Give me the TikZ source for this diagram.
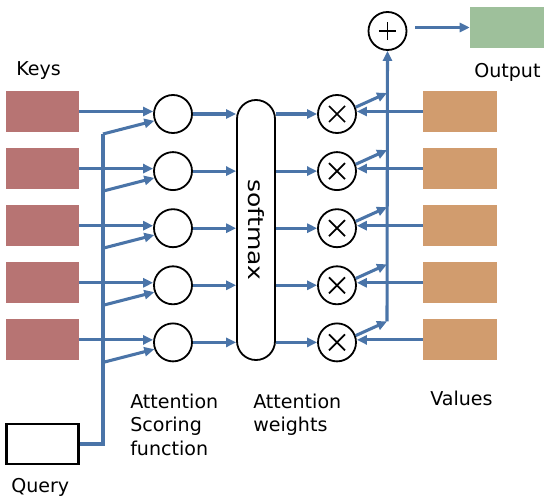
\documentclass[tikz,border=0pt]{standalone}
\usepackage{fontspec}
\setmainfont{DejaVu Sans}
\usetikzlibrary{arrows.meta}
\definecolor{keycol}{RGB}{183,116,115}
\definecolor{valcol}{RGB}{209,156,110}
\definecolor{outcol}{RGB}{158,192,155}
\definecolor{linecol}{RGB}{74,116,168}
\tikzset{
  conn/.style={draw=linecol,line width=2.3pt,-{Triangle[length=7.5pt,width=6.8pt]}},
  plainconn/.style={draw=linecol,line width=2.3pt},
  keybox/.style={rectangle,fill=keycol,minimum width=54.75pt,minimum height=30.75pt,inner sep=0pt},
  valbox/.style={rectangle,fill=valcol,minimum width=55.5pt,minimum height=30.75pt,inner sep=0pt},
  opcirc/.style={circle,draw=black,line width=1.35pt,minimum size=28.5pt,inner sep=0pt},
  sym/.style={draw=black,line width=1.3pt},
  lbl/.style={font=\fontsize{14.3pt}{17.6pt}\selectfont,inner sep=0pt,anchor=base west}
}
\begin{document}
\begin{tikzpicture}[x=0.75pt,y=-0.75pt]
\useasboundingbox (0,0) rectangle (550,503);
% softmax
\node[draw=black,line width=1.35pt,rounded corners=14.2pt,minimum width=28.5pt,minimum height=195pt,inner sep=0pt] (sm) at (256,230)
  {\rotatebox{-90}{\scalebox{1.25}[1.05]{\fontsize{15pt}{17pt}\selectfont softmax}}};
% plus and output
\node[opcirc] (plus) at (387.5,31) {};
\draw[sym] ([xshift=-6.5pt]plus.center) -- ([xshift=6.5pt]plus.center);
\draw[sym] ([yshift=-6.5pt]plus.center) -- ([yshift=6.5pt]plus.center);
\node[rectangle,fill=outcol,minimum width=55.5pt,minimum height=30.75pt,inner sep=0pt] (out) at (507,27.5) {};
\coordinate (plusout) at (415,27.5);
\draw[conn] (plusout) -- (out.west);
% query
\node[rectangle,draw=black,line width=2.2pt,minimum width=54pt,minimum height=30pt,inner sep=0pt] (query) at (42.5,444) {};
\coordinate (qtop) at (103,134);
\draw[plainconn] (query.east) -| (qtop);
% rows
\foreach \i/\r in {1/114,2/171.1,3/228.2,4/285.3,5/342.4}{
  \node[keybox] (k\i) at (42.5,\r-2.5) {};
  \node[valbox] (v\i) at (460,\r-2.5) {};
  \node[opcirc] (c\i) at (173,\r) {};
  \node[opcirc] (m\i) at (337,\r) {};
  \draw[sym] ([shift={(-8,-8)}]m\i.center) -- ([shift={(8,8)}]m\i.center);
  \draw[sym] ([shift={(-8,8)}]m\i.center) -- ([shift={(8,-8)}]m\i.center);
  \coordinate (qb\i) at (103,\r+20);
  \coordinate (s\i) at (387,\r-21);
  \draw[conn] (k\i.east) -- (c\i.west |- k\i.east);
  \draw[conn] (qb\i) -- (c\i.200);
  \draw[conn] (c\i.east) -- (c\i.east -| sm.west);
  \draw[conn] (sm.east |- m\i.west) -- (m\i.west);
  \draw[conn] (v\i.west) -- (m\i.east |- v\i.west);
  \draw[conn] (m\i.20) -- (s\i);
}
\draw[conn] (s5) -- (plus.south);
% labels
\node[lbl] (lkeys) at (16,75) {Keys};
\node[lbl] (lquery) at (11,492) {Query};
\node[lbl] (lout) at (474,78) {Output};
\node[lbl] (lval) at (430,405) {Values};
\node[lbl] (las1) at (130,408) {Attention};
\node[lbl] (las2) at (130,431.5) {Scoring};
\node[lbl] (las3) at (130,455) {function};
\node[lbl] (law1) at (253,408) {Attention};
\node[lbl] (law2) at (253,431.5) {weights};
\end{tikzpicture}
\end{document}
